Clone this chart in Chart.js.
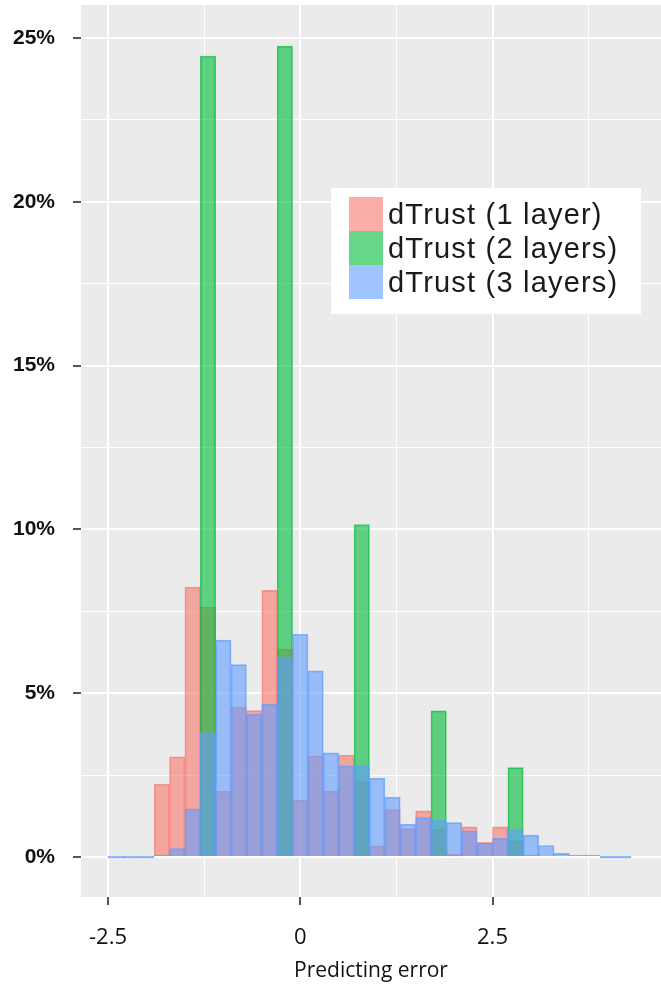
<!DOCTYPE html>
<html>
<head>
<meta charset="utf-8">
<script src="https://cdn.jsdelivr.net/npm/chart.js@4.4.1/dist/chart.umd.min.js"></script>
<style>
  html, body { margin: 0; padding: 0; background: #ffffff; }
  #wrap { position: relative; width: 661px; height: 985px; }
  canvas { display: block; }
</style>
</head>
<body>
<div id="wrap"><canvas id="chart" width="661" height="985"></canvas></div>
<script>
const binCenters = [-2.4,-2.2,-2.0,-1.8,-1.6,-1.4,-1.2,-1.0,-0.8,-0.6,-0.4,-0.2,0,0.2,0.4,0.6,0.8,1.0,1.2,1.4,1.6,1.8,2.0,2.2,2.4,2.6,2.8,3.0,3.2,3.4,3.6,3.8,4.0,4.2];
const oneLayer    = [0,0,0,2.22,3.06,8.24,7.63,2.01,4.58,4.47,8.14,6.35,1.74,3.09,2.01,3.11,2.30,0.34,1.45,0.87,1.41,0.85,0.08,0.92,0.45,0.92,0.49,0.05,0,0,0,0,0,0];
const twoLayers   = [0,0,0,0,0,0,24.45,0,0,0,0,24.75,0,0,0,0,10.15,0,0,0,0,4.46,0,0,0,0,2.73,0,0,0,0,0,0,0];
const threeLayers = [0,0,0,0.05,0.26,1.47,3.8,6.62,5.87,4.36,4.66,6.11,6.8,5.68,3.18,2.78,2.78,2.4,1.82,1.0,1.2,1.13,1.05,0.8,0.42,0.57,0.84,0.67,0.35,0.11,0.03,0.01,0,0];
const seriesLabels = ['dTrust (1 layer)', 'dTrust (2 layers)', 'dTrust (3 layers)'];
const xTickValues = [-2.5, -1.25, 0, 1.25, 2.5, 3.75];
const xMajorTicks = [-2.5, 0, 2.5];
const yTickValues = [0, 2.5, 5, 7.5, 10, 12.5, 15, 17.5, 20, 22.5, 25];
const yMajorTicks = [0, 5, 10, 15, 20, 25];
const xTitle = 'Predicting error';

// ---- styles ----
const fills   = ['rgba(248,118,109,0.6)', 'rgba(0,186,56,0.6)', 'rgba(97,156,255,0.6)'];
const borders = ['rgba(248,118,109,0.7)', 'rgba(0,186,56,0.7)', 'rgba(97,156,255,0.75)'];
const minLens = [0, 0, 2];
const seriesValues = [oneLayer, twoLayers, threeLayers];

const datasets = seriesValues.map((vals, i) => ({
  label: seriesLabels[i],
  data: binCenters.map((c, k) => ({ x: c, y: vals[k] })),
  backgroundColor: fills[i],
  borderColor: borders[i],
  borderWidth: 1,
  minBarLength: minLens[i],
  barPercentage: 1,
  categoryPercentage: 1,
  grouped: false,
  order: 3 - i
}));

const isMajor = (v, list) => list.some(m => Math.abs(m - v) < 1e-9);

const panelPlugin = {
  id: 'panelBg',
  beforeDraw(chart) {
    const { ctx, chartArea: a } = chart;
    ctx.save();
    ctx.fillStyle = '#ffffff';
    ctx.fillRect(0, 0, chart.width, chart.height);
    ctx.fillStyle = '#EBEBEB';
    ctx.fillRect(a.left, a.top, a.right - a.left, a.bottom - a.top);
    ctx.restore();
  }
};

const legendPlugin = {
  id: 'insetLegend',
  afterDraw(chart) {
    const { ctx } = chart;
    const bx = 331, by = 188, bw = 310, bh = 126;
    const keyX = 349, keyY = 197, key = 34;
    ctx.save();
    ctx.fillStyle = '#ffffff';
    ctx.fillRect(bx, by, bw, bh);
    ctx.font = '29px "Liberation Sans", Arial, sans-serif';
    if ('letterSpacing' in ctx) ctx.letterSpacing = '1.2px';
    ctx.textAlign = 'left';
    ctx.textBaseline = 'alphabetic';
    chart.data.datasets.forEach((ds, i) => {
      const y = keyY + i * key;
      ctx.fillStyle = ds.backgroundColor;
      ctx.fillRect(keyX, y, key, key);
      ctx.fillStyle = '#1a1a1a';
      ctx.fillText(ds.label, 388, y + key / 2 + 10);
    });
    ctx.restore();
  }
};

new Chart(document.getElementById('chart'), {
  type: 'bar',
  data: { datasets },
  plugins: [panelPlugin, legendPlugin],
  options: {
    responsive: false,
    animation: false,
    devicePixelRatio: 1,
    layout: { autoPadding: false, padding: { top: 5, left: 0, right: 0, bottom: 0 } },
    plugins: { legend: { display: false }, tooltip: { enabled: false } },
    scales: {
      x: {
        type: 'linear',
        min: -2.851,
        max: 4.691,
        offset: false,
        afterBuildTicks: s => { s.ticks = xTickValues.map(v => ({ value: v })); },
        afterFit: s => { s.height = 88; s.paddingLeft = 0; s.paddingRight = 0; s.paddingTop = 0; s.paddingBottom = 0; },
        border: { display: false },
        grid: {
          offset: false,
          color: '#ffffff',
          lineWidth: c => (c.tick && isMajor(c.tick.value, xMajorTicks)) ? 2 : 1,
          drawTicks: true,
          tickLength: 8,
          tickWidth: 2,
          tickColor: c => (c.tick && isMajor(c.tick.value, xMajorTicks)) ? '#555555' : 'rgba(0,0,0,0)'
        },
        ticks: {
          autoSkip: false,
          maxRotation: 0,
          padding: 20,
          color: '#111111',
          font: { family: '"Open Sans", sans-serif', size: 22 },
          callback: v => isMajor(v, xMajorTicks) ? String(v) : ''
        },
        title: {
          display: true,
          text: xTitle,
          color: '#111111',
          font: { family: '"Open Sans", sans-serif', size: 21 },
          padding: { top: 0, bottom: 1 }
        }
      },
      y: {
        type: 'linear',
        min: -1.221,
        max: 26.007,
        afterBuildTicks: s => { s.ticks = yTickValues.map(v => ({ value: v })); },
        afterFit: s => { s.width = 81; s.paddingLeft = 0; s.paddingRight = 0; s.paddingTop = 0; s.paddingBottom = 0; },
        border: { display: false },
        grid: {
          color: '#ffffff',
          lineWidth: c => (c.tick && isMajor(c.tick.value, yMajorTicks)) ? 2 : 1,
          drawTicks: true,
          tickLength: 8,
          tickWidth: 2,
          tickColor: c => (c.tick && isMajor(c.tick.value, yMajorTicks)) ? '#555555' : 'rgba(0,0,0,0)'
        },
        ticks: {
          autoSkip: false,
          padding: 18,
          color: '#111111',
          font: { family: '"Liberation Sans", Arial, sans-serif', size: 21, weight: 'bold' },
          callback: v => isMajor(v, yMajorTicks) ? v + '%' : ''
        }
      }
    }
  }
});
</script>
</body>
</html>
